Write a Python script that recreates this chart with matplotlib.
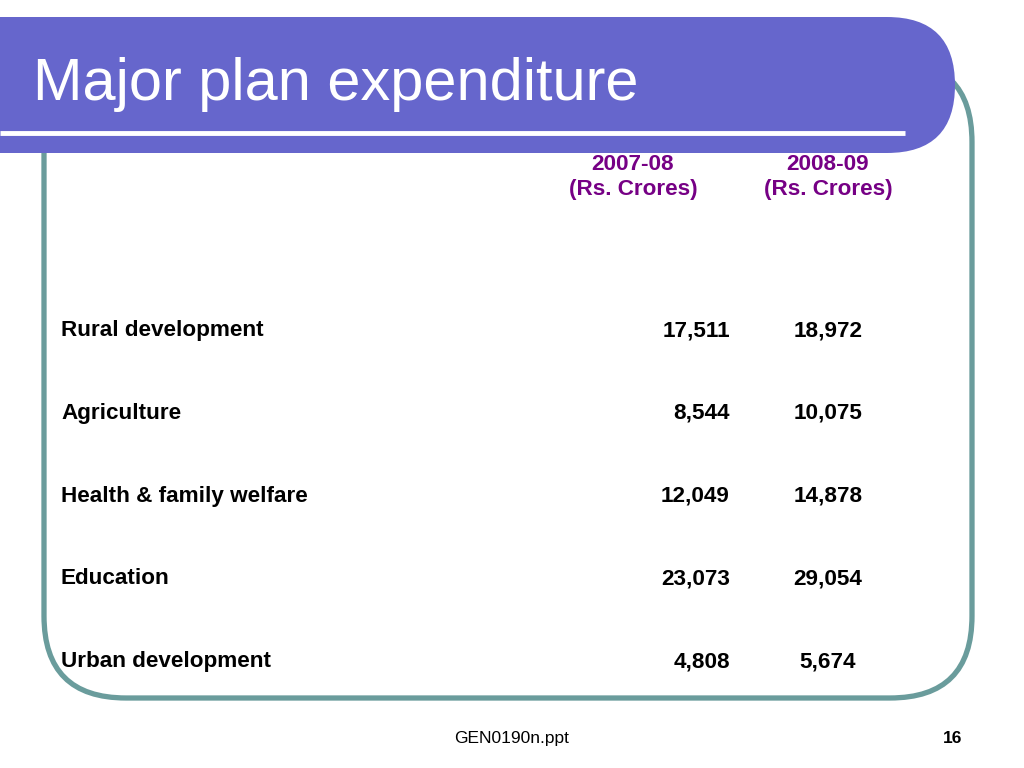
import matplotlib
matplotlib.use('Agg')
import matplotlib.pyplot as plt
from matplotlib.patches import FancyBboxPatch

plt.rcParams['font.family'] = ['Liberation Sans', 'DejaVu Sans']

# table content
title = 'Major plan expenditure'
years = ['2007-08', '2008-09']
unit = '(Rs. Crores)'
categories = ['Rural development', 'Agriculture', 'Health & family welfare',
              'Education', 'Urban development']
spend_0708 = [17511, 8544, 12049, 23073, 4808]
spend_0809 = [18972, 10075, 14878, 29054, 5674]
footer = 'GEN0190n.ppt'
page = '16'

fig = plt.figure(figsize=(10.24, 7.68), dpi=100)
ax = fig.add_axes([0, 0, 1, 1])
ax.set_xlim(0, 1024)
ax.set_ylim(768, 0)
ax.axis('off')

teal = '#6A9C9C'
blue = '#6666CC'
purple = '#760085'
fs = 16.2

# teal rounded frame
frame = FancyBboxPatch((44, 60), 928, 638,
                       boxstyle='round,pad=0,rounding_size=82',
                       fc='none', ec=teal, lw=3.8, zorder=1)
ax.add_patch(frame)

# title band
band = FancyBboxPatch((-80, 17), 1035, 136,
                      boxstyle='round,pad=0,rounding_size=68',
                      fc=blue, ec='none', zorder=2)
ax.add_patch(band)
ax.plot([0, 905], [133, 133], color='white', lw=3.5, zorder=3,
        solid_capstyle='butt')
ax.text(33, 100, title, color='white', fontsize=42.8, ha='left',
        va='baseline', zorder=4)

# column headers
col_x = [633, 828]
for x, yr in zip(col_x, years):
    ax.text(x, 170, yr, color=purple, fontsize=fs, fontweight='bold',
            ha='center', va='baseline', zorder=4)
    ax.text(x, 195, unit, color=purple, fontsize=fs, fontweight='bold',
            ha='center', va='baseline', zorder=4)

# rows
row_y0 = 336
row_step = 82.8
for i, (cat, a, b) in enumerate(zip(categories, spend_0708, spend_0809)):
    y = row_y0 + i * row_step
    ax.text(61, y, cat, fontsize=fs, fontweight='bold', ha='left',
            va='baseline', zorder=5)
    ax.text(730, y, f'{a:,}', fontsize=fs, fontweight='bold', ha='right',
            va='baseline')
    ax.text(col_x[1], y, f'{b:,}', fontsize=fs, fontweight='bold',
            ha='center', va='baseline')

# footer
ax.text(512, 743, footer, fontsize=12.5, ha='center', va='baseline')
ax.text(962, 743, page, fontsize=12.5, fontweight='bold', ha='right',
        va='baseline')

fig.savefig('out.png', dpi=100)
